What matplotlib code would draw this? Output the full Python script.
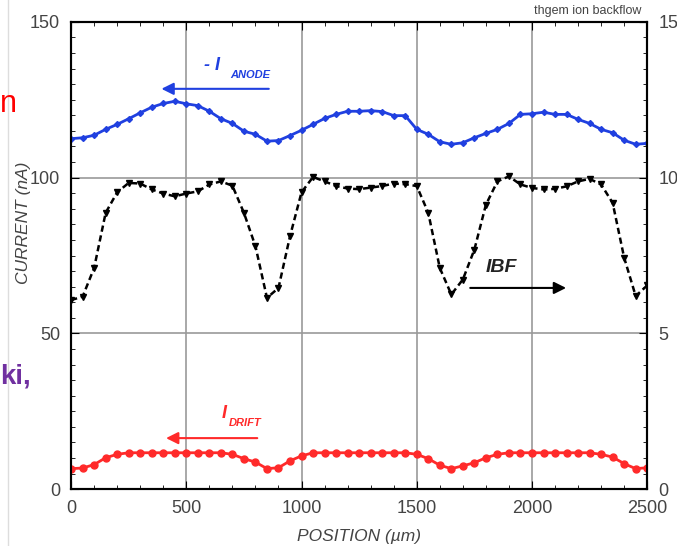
import matplotlib
matplotlib.use("Agg")
import matplotlib.pyplot as plt
from matplotlib.ticker import MultipleLocator

plt.rcParams['font.family'] = ['Liberation Sans', 'DejaVu Sans']

# positions in um, one sample every 50 um
position = list(range(0, 2501, 50))

anode = [112.5, 112.8, 113.6, 115.5, 117.1, 118.9, 120.8, 122.6, 123.8, 124.5,
         123.7, 123.1, 121.3, 118.9, 117.4, 114.9, 113.9, 111.7, 111.9, 113.5,
         115.2, 117.1, 119.0, 120.3, 121.3, 121.3, 121.5, 121.2, 119.9, 119.9,
         115.5, 113.9, 111.5, 110.7, 111.2, 112.8, 114.2, 115.5, 117.4, 120.3,
         120.5, 121.0, 120.3, 120.3, 118.7, 117.4, 115.5, 114.4, 112.0, 110.7,
         111.0]

drift = [6.6, 6.8, 7.9, 10.1, 11.2, 11.7, 11.7, 11.7, 11.7, 11.7,
         11.7, 11.7, 11.7, 11.7, 11.2, 9.8, 8.7, 6.6, 6.9, 9.1,
         10.7, 11.7, 11.7, 11.7, 11.7, 11.7, 11.7, 11.7, 11.7, 11.7,
         11.2, 9.8, 7.7, 6.6, 7.5, 8.5, 10.1, 11.2, 11.7, 11.7,
         11.7, 11.7, 11.7, 11.7, 11.7, 11.7, 11.2, 10.3, 8.2, 6.6,
         6.9]

# ion backflow in percent (right axis)
ibf = [6.07, 6.18, 7.10, 8.87, 9.53, 9.83, 9.81, 9.62, 9.49, 9.40,
       9.49, 9.56, 9.78, 9.88, 9.74, 8.87, 7.80, 6.14, 6.46, 8.12,
       9.53, 10.02, 9.88, 9.73, 9.65, 9.63, 9.68, 9.73, 9.81, 9.79,
       9.73, 8.87, 7.10, 6.25, 6.73, 7.69, 9.13, 9.88, 10.04, 9.78,
       9.67, 9.62, 9.64, 9.72, 9.88, 9.96, 9.78, 9.19, 7.43, 6.20,
       6.54]

blue = "#2040e0"
red = "#ff2a2a"
grey = "#444444"

fig = plt.figure(figsize=(6.77, 5.46), dpi=100)
ax = fig.add_axes([0.105, 0.104, 0.851, 0.856])
ax2 = ax.twinx()

ax.plot(position, anode, color=blue, lw=2, marker='D', ms=3, zorder=3)
ax.plot(position, drift, color=red, lw=2, marker='o', ms=5, zorder=3)
ax2.plot(position, ibf, color="black", lw=1.8, ls=(0, (2.5, 1.5)), marker='v', ms=4.5, zorder=3)

ax.set_xlim(0, 2500)
ax.set_ylim(0, 150)
ax2.set_ylim(0, 15)

ax.xaxis.set_major_locator(MultipleLocator(500))
ax.xaxis.set_minor_locator(MultipleLocator(100))
ax.yaxis.set_major_locator(MultipleLocator(50))
ax.yaxis.set_minor_locator(MultipleLocator(5))
ax2.yaxis.set_major_locator(MultipleLocator(5))
ax2.yaxis.set_minor_locator(MultipleLocator(0.5))

ax.grid(True, which='major', color='#999999', lw=1.2)
ax.set_axisbelow(True)

ax.tick_params(which='both', direction='in', top=True, labelsize=13, labelcolor=grey, pad=8)
ax.tick_params(which='major', length=6)
ax.tick_params(which='minor', length=3)
ax2.tick_params(which='both', direction='in', labelsize=13, labelcolor=grey, pad=8)
ax2.tick_params(which='major', length=6)
ax2.tick_params(which='minor', length=3)

for a in (ax, ax2):
    for s in a.spines.values():
        s.set_linewidth(1.5)

ax.set_xlabel("POSITION (µm)", fontsize=12.5, style='italic', color=grey)
ax.xaxis.set_label_coords(0.5, -0.085)
ax.set_ylabel("CURRENT (nA)", fontsize=12.5, style='italic', color=grey)
ax.yaxis.set_label_coords(-0.07, 0.57)

ax.text(0.99, 1.01, "thgem ion backflow", transform=ax.transAxes, ha='right', va='bottom',
        fontsize=9, color=grey)

# curve labels with arrows
ax.annotate("", xy=(380, 128.5), xytext=(870, 128.5),
            arrowprops=dict(arrowstyle='-|>', color=blue, lw=1.5, mutation_scale=18))
ax.text(575, 136, "- I", color=blue, fontsize=13, fontweight='bold', style='italic', va='center')
ax.text(690, 133, "ANODE", color=blue, fontsize=8, fontweight='bold', style='italic', va='center')

ax.annotate("", xy=(400, 16.4), xytext=(820, 16.4),
            arrowprops=dict(arrowstyle='-|>', color=red, lw=1.5, mutation_scale=18))
ax.text(655, 24.4, "I", color=red, fontsize=13, fontweight='bold', style='italic', va='center')
ax.text(685, 21.3, "DRIFT", color=red, fontsize=8, fontweight='bold', style='italic', va='center')

ax.annotate("", xy=(2160, 64.6), xytext=(1720, 64.6),
            arrowprops=dict(arrowstyle='-|>', color='black', lw=1.5, mutation_scale=18))
ax.text(1800, 71, "IBF", color='#222222', fontsize=14, fontweight='bold', style='italic', va='center')

# bits of the slide behind the chart
fig.text(0.0, 0.81, "n", color='red', fontsize=22, ha='left', va='center')
fig.text(0.0, 0.31, "ki,", color='#7030a0', fontsize=20, fontweight='bold', ha='left', va='center')
fig.add_artist(plt.Line2D([0.012, 0.012], [0.0, 1.0], color='#dddddd', lw=1))

fig.savefig("out.png", dpi=100)
